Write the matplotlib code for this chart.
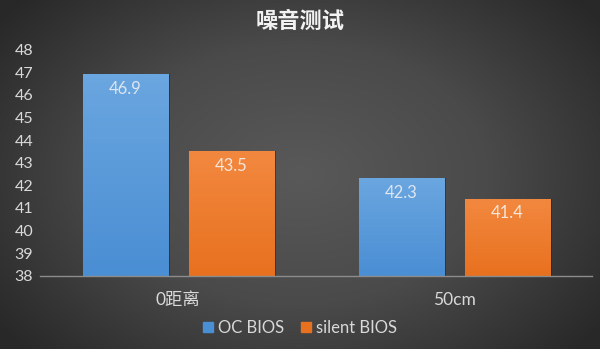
import numpy as np
import matplotlib
matplotlib.use('Agg')
import matplotlib.pyplot as plt
from matplotlib.patches import Patch
from matplotlib.colors import LinearSegmentedColormap

plt.rcParams['font.family'] = ['Lato', 'Noto Sans CJK SC', 'DejaVu Sans']

categories = ['0距离', '50cm']
series_names = ['OC BIOS', 'silent BIOS']
oc_bios = [46.9, 42.3]
silent_bios = [43.5, 41.4]
yticks = list(range(38, 49))

blue_top, blue_bot = '#6aa6e0', '#4a8ed3'
orange_top, orange_bot = '#f2883f', '#e8711f'

fig = plt.figure(figsize=(6, 3.49), dpi=100)

# dark background, lighter in the middle
bg = fig.add_axes([0, 0, 1, 1])
yy, xx = np.mgrid[-1:1:200j, -1:1:300j]
r = np.clip(np.sqrt((xx * 0.95) ** 2 + (yy * 0.8) ** 2), 0, 1.2) / 1.2
bg_cmap = LinearSegmentedColormap.from_list('bg', ['#595959', '#4a4a4a', '#282828'])
bg.imshow(r, cmap=bg_cmap, vmin=0, vmax=1, aspect='auto', extent=[0, 1, 0, 1])
bg.axis('off')

ax = fig.add_axes([0.067, 0.21, 0.92, 0.648])
ax.set_facecolor('none')
x = np.arange(len(categories))
w = 0.308
off = 0.192

def grad_bar(xc, h, ctop, cbot):
    bars = ax.bar(xc, h - 38, w, bottom=38, color='none', linewidth=0)
    cmap = LinearSegmentedColormap.from_list('g', [cbot, ctop])
    for b in bars:
        x0 = b.get_x()
        y0 = b.get_y()
        x1 = x0 + b.get_width()
        y1 = y0 + b.get_height()
        # faint shadow
        ax.bar(x0 + w / 2 + 0.008, b.get_height(), w, bottom=38, color='#222222', alpha=0.5, linewidth=0, zorder=1)
        ax.imshow(np.linspace(0, 1, 50).reshape(-1, 1), cmap=cmap, origin='lower', aspect='auto',
                  extent=[x0, x1, y0, y1], zorder=2)
    return bars

grad_bar(x - off, np.array(oc_bios), blue_top, blue_bot)
grad_bar(x + off, np.array(silent_bios), orange_top, orange_bot)

for xi, v in zip(x - off, oc_bios):
    ax.text(xi, v - 0.28, f'{v}', ha='center', va='top', color='#dde6f0', fontsize=12)
for xi, v in zip(x + off, silent_bios):
    ax.text(xi, v - 0.28, f'{v}', ha='center', va='top', color='#f5e6dc', fontsize=12)

ax.set_xlim(-0.5, 1.5)
ax.set_ylim(38, 48)
ax.set_yticks(yticks)
ax.set_xticks(x)
ax.set_xticklabels(categories)
ax.tick_params(axis='both', length=0, colors='#d9d9d9', labelsize=11.5)
ax.tick_params(axis='x', pad=12, labelsize=12.5)
ax.tick_params(axis='y', pad=5)
for s in ['top', 'right', 'left']:
    ax.spines[s].set_visible(False)
ax.spines['bottom'].set_color('#8c8c8c')
ax.spines['bottom'].set_linewidth(1.0)

fig.text(0.5, 0.94, '噪音测试', ha='center', va='center', color='#f2f2f2', fontsize=16, fontweight='bold')

handles = [Patch(color=blue_bot, label=series_names[0]), Patch(color=orange_bot, label=series_names[1])]
leg = fig.legend(handles=handles, loc='center', bbox_to_anchor=(0.5, 0.06), ncol=2, frameon=False,
                 handlelength=0.6, handleheight=0.6, handletextpad=0.3, columnspacing=1.0, fontsize=12)
for t in leg.get_texts():
    t.set_color('#d9d9d9')

fig.savefig('out.png', dpi=100)
